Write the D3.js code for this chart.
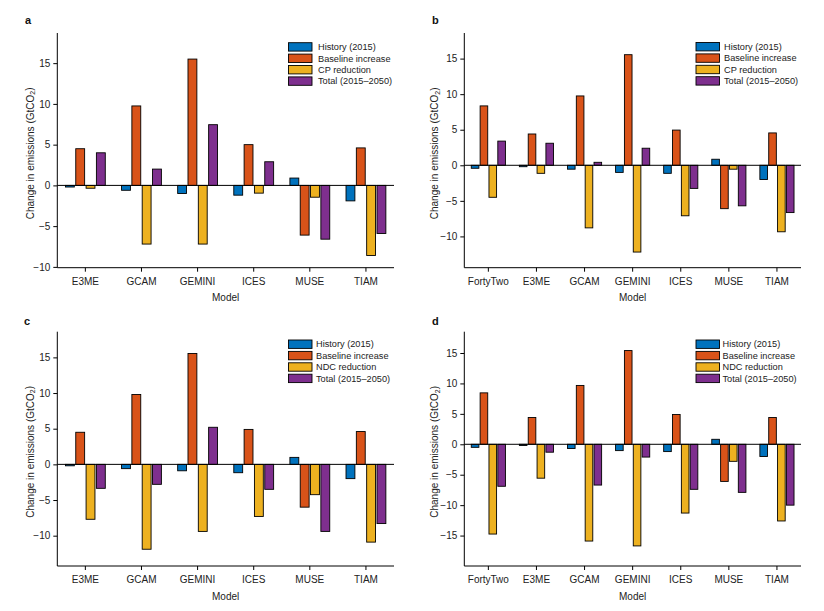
<!DOCTYPE html>
<html>
<head>
<meta charset="utf-8">
<script src="https://cdn.jsdelivr.net/npm/d3@7"></script>
<style>
  body { margin: 0; background: #fff; }
  svg { font-family: Arial, "Liberation Sans", Helvetica, sans-serif; }
  .tick text { font-size: 10px; fill: #222; }
</style>
</head>
<body>
<div id="viz"></div>
<script>
// model names
const models6 = ['E3ME', 'GCAM', 'GEMINI', 'ICES', 'MUSE', 'TIAM']
const models7 = ['FortyTwo', 'E3ME', 'GCAM', 'GEMINI', 'ICES', 'MUSE', 'TIAM']

// series names (legend)
const seriesCP = ['History (2015)', 'Baseline increase', 'CP reduction', 'Total (2015\u20132050)']
const seriesNDC = ['History (2015)', 'Baseline increase', 'NDC reduction', 'Total (2015\u20132050)']

// panel a: CP, six models
const aHistory  = [-0.2, -0.6, -1.0, -1.2, 0.9, -1.9]
const aBaseline = [4.5, 9.75, 15.5, 5.0, -6.1, 4.6]
const aPolicy   = [-0.35, -7.2, -7.2, -0.95, -1.45, -8.6]
const aTotal    = [4.0, 2.0, 7.45, 2.9, -6.6, -5.9]

// panel b: CP, seven models
const bHistory  = [-0.42, -0.2, -0.55, -1.0, -1.13, 0.85, -2.0]
const bBaseline = [8.35, 4.4, 9.75, 15.55, 4.95, -6.1, 4.55]
const bPolicy   = [-4.5, -1.13, -8.8, -12.2, -7.1, -0.55, -9.35]
const bTotal    = [3.4, 3.1, 0.42, 2.4, -3.25, -5.7, -6.65]

// panel c: NDC, six models
const cHistory  = [-0.2, -0.6, -0.9, -1.17, 0.98, -2.0]
const cBaseline = [4.5, 9.8, 15.55, 4.9, -6.0, 4.6]
const cPolicy   = [-7.7, -11.9, -9.4, -7.3, -4.25, -10.9]
const cTotal    = [-3.36, -2.8, 5.2, -3.5, -9.4, -8.3]

// panel d: NDC, seven models
const dHistory  = [-0.5, -0.2, -0.7, -1.04, -1.2, 0.82, -2.0]
const dBaseline = [8.45, 4.4, 9.67, 15.4, 4.9, -6.1, 4.4]
const dPolicy   = [-14.75, -5.57, -15.9, -16.7, -11.3, -2.8, -12.6]
const dTotal    = [-6.9, -1.3, -6.7, -2.1, -7.4, -7.9, -10.0]

// y ticks
const ticksA = [-10, -5, 0, 5, 10, 15]
const ticksD = [-15, -10, -5, 0, 5, 10, 15]

const colors = ['#0072BD', '#D95319', '#EDB120', '#7E2F8E']

const W = 824, H = 611

const panels = [
  { label: 'a', models: models6, series: seriesCP, values: [aHistory, aBaseline, aPolicy, aTotal],
    ticks: ticksA, domain: [-10.1, 18.7],
    left: 57.3, right: 394, top: 33, bottom: 267.7,
    labelPos: [25, 24], legend: [288.5, 42.7, 318], titleX: 30, modelY: 301 },
  { label: 'b', models: models7, series: seriesCP, values: [bHistory, bBaseline, bPolicy, bTotal],
    ticks: ticksA, domain: [-14.4, 18.6],
    left: 464.3, right: 801, top: 33, bottom: 267.7,
    labelPos: [432, 24], legend: [696, 42.5, 724], titleX: 434.5, modelY: 301 },
  { label: 'c', models: models6, series: seriesNDC, values: [cHistory, cBaseline, cPolicy, cTotal],
    ticks: ticksA, domain: [-14.25, 18.6],
    left: 57.3, right: 394, top: 331.7, bottom: 566,
    labelPos: [24, 325], legend: [288.5, 340, 316], titleX: 30, modelY: 600 },
  { label: 'd', models: models7, series: seriesNDC, values: [dHistory, dBaseline, dPolicy, dTotal],
    ticks: ticksD, domain: [-20, 18.5],
    left: 464.3, right: 801, top: 331.7, bottom: 566,
    labelPos: [432, 325], legend: [696, 340, 722.5], titleX: 434.5, modelY: 600 }
]

const svg = d3.select('#viz')
  .append('svg')
    .attr('width', W)
    .attr('height', H)

panels.forEach(p => {
  let g = svg.append('g')

  let x = d3.scaleBand()
    .domain(p.models)
    .range([p.left, p.right])

  let inner = d3.scaleBand()
    .domain(d3.range(4))
    .range([x.bandwidth() * 0.145, x.bandwidth() * 0.855])
    .paddingInner(0.14)

  let y = d3.scaleLinear()
    .domain(p.domain)
    .range([p.bottom, p.top])

  // bars
  p.values.forEach((vals, si) => {
    g.append('g')
      .selectAll('rect')
      .data(vals)
      .join('rect')
        .attr('x', (d, i) => x(p.models[i]) + inner(si))
        .attr('width', inner.bandwidth())
        .attr('y', d => y(Math.max(0, d)))
        .attr('height', d => Math.abs(y(d) - y(0)))
        .attr('fill', colors[si])
        .attr('stroke', '#000')
        .attr('stroke-width', 0.9)
  })

  // zero line
  g.append('line')
    .attr('x1', p.left).attr('x2', p.right)
    .attr('y1', y(0)).attr('y2', y(0))
    .attr('stroke', '#000')
    .attr('stroke-width', 1)

  // axes
  let yAxis = g.append('g')
    .attr('transform', 'translate(' + p.left + ',0)')
    .call(d3.axisLeft(y).tickValues(p.ticks).tickSize(4).tickSizeOuter(0)
      .tickFormat(d => d < 0 ? '\u2212' + Math.abs(d) : d))
  yAxis.select('.domain').attr('d', 'M0,' + p.top + 'V' + p.bottom)

  let xAxis = g.append('g')
    .attr('transform', 'translate(0,' + p.bottom + ')')
    .call(d3.axisBottom(x).tickSize(4).tickSizeOuter(0).tickPadding(6))
  xAxis.select('.domain').attr('d', 'M' + p.left + ',0H' + p.right)

  g.selectAll('.domain, .tick line').attr('stroke', '#000').attr('stroke-width', 1)

  // panel letter
  g.append('text')
    .attr('x', p.labelPos[0]).attr('y', p.labelPos[1])
    .attr('font-size', 11).attr('font-weight', 'bold')
    .attr('fill', '#111')
    .text(p.label)

  // axis titles
  g.append('text')
    .attr('x', (p.left + p.right) / 2).attr('y', p.modelY)
    .attr('text-anchor', 'middle')
    .attr('font-size', 10).attr('fill', '#222')
    .text('Model')

  let yt = g.append('text')
    .attr('transform', 'translate(' + p.titleX + ',' + ((p.top + p.bottom) / 2 + 3) + ') rotate(-90)')
    .attr('text-anchor', 'middle')
    .attr('dy', '0.35em')
    .attr('font-size', 10).attr('fill', '#222')
  yt.append('tspan').text('Change in emissions (GtCO')
  yt.append('tspan').attr('font-size', 7).attr('dy', '0.25em').text('2')
  yt.append('tspan').attr('dy', '-0.18em').text(')')

  // legend
  let lg = g.append('g')
  p.series.forEach((s, i) => {
    let yy = p.legend[1] + i * 11.4
    lg.append('rect')
      .attr('x', p.legend[0]).attr('y', yy)
      .attr('width', 23.5).attr('height', 8.4)
      .attr('fill', colors[i])
      .attr('stroke', '#000').attr('stroke-width', 0.9)
    lg.append('text')
      .attr('x', p.legend[2]).attr('y', yy + 4.2)
      .attr('dy', '0.35em')
      .attr('font-size', 9.2).attr('fill', '#222')
      .text(s)
  })
})
</script>
</body>
</html>
